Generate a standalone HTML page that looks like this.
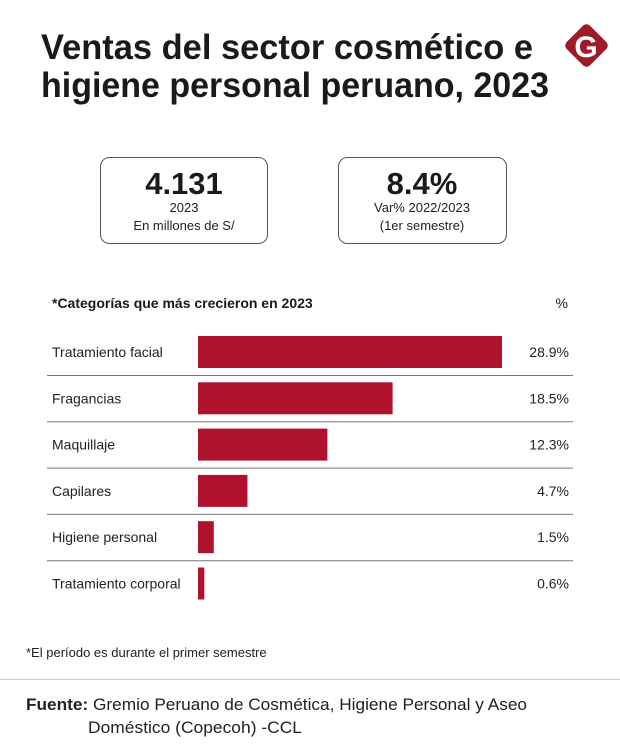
<!DOCTYPE html>
<html><head><meta charset="utf-8"><style>
html,body{margin:0;padding:0;background:#fff;width:620px;height:747px;overflow:hidden}
svg{display:block;font-family:"Liberation Sans",sans-serif}
</style></head><body>
<svg width="620" height="747" viewBox="0 0 620 747">
<text x="41" y="59" font-size="35" font-weight="bold" fill="#1a1a1a" textLength="492" lengthAdjust="spacingAndGlyphs">Ventas del sector cosmético e</text>
<text x="41" y="97" font-size="35" font-weight="bold" fill="#1a1a1a" textLength="508" lengthAdjust="spacingAndGlyphs">higiene personal peruano, 2023</text>
<g>
<rect x="570" y="29" width="33" height="33" rx="5" transform="rotate(45 586.5 45.5)" fill="#9e1b2a"/>
<text x="586" y="57" font-size="30" font-weight="bold" fill="#fff" text-anchor="middle">G</text>
</g>
<g>
<rect x="100.5" y="157.5" width="167" height="86" rx="9" fill="none" stroke="#555" stroke-width="1"/>
<text x="184" y="194" font-size="31" font-weight="bold" text-anchor="middle" fill="#1a1a1a">4.131</text>
<text x="184" y="212" font-size="13" text-anchor="middle" fill="#222">2023</text>
<text x="184" y="230" font-size="13" text-anchor="middle" fill="#222">En millones de S/</text>
</g>
<g>
<rect x="338.5" y="157.5" width="168" height="86" rx="9" fill="none" stroke="#555" stroke-width="1"/>
<text x="422" y="194" font-size="31" font-weight="bold" text-anchor="middle" fill="#1a1a1a">8.4%</text>
<text x="422" y="212" font-size="13" text-anchor="middle" fill="#222">Var% 2022/2023</text>
<text x="422" y="230" font-size="13" text-anchor="middle" fill="#222">(1er semestre)</text>
</g>
<text x="52" y="308" font-size="14" font-weight="bold" fill="#1a1a1a">*Categorías que más crecieron en 2023</text>
<text x="568" y="308" font-size="14" text-anchor="end" fill="#1a1a1a">%</text>
<g id="chart"></g>
<text x="26" y="657" font-size="13" fill="#222">*El período es durante el primer semestre</text>
<line x1="0" y1="679.5" x2="620" y2="679.5" stroke="#ccc"/>
<text x="26" y="710" font-size="17" fill="#222" textLength="501" lengthAdjust="spacingAndGlyphs"><tspan font-weight="bold">Fuente:</tspan> Gremio Peruano de Cosmética, Higiene Personal y Aseo</text>
<text x="88" y="733" font-size="17" fill="#222" textLength="214" lengthAdjust="spacingAndGlyphs">Doméstico (Copecoh) -CCL</text>
</svg>
<script>
const categories = ["Tratamiento facial","Fragancias","Maquillaje","Capilares","Higiene personal","Tratamiento corporal"];
const values = [28.9,18.5,12.3,4.7,1.5,0.6];
const valueLabels = ["28.9%","18.5%","12.3%","4.7%","1.5%","0.6%"];
const NS="http://www.w3.org/2000/svg";
const g=document.getElementById('chart');
const x0=198, pxPerUnit=304/28.9, rowTop=336, rowH=46.3, barH=32;
const xs=v=>v*pxPerUnit;
const ys=i=>rowTop+i*rowH;
function mk(t,a){const e=document.createElementNS(NS,t);for(const k in a)e.setAttribute(k,a[k]);g.appendChild(e);return e;}
categories.forEach((c,i)=>{
  const y=ys(i);
  const r=mk('rect',{x:x0,y:y,width:Math.max(xs(values[i]),1),height:barH,fill:'#b0122e'});
  
  
  const l=mk('text',{x:52,y:y+barH/2+5,'font-size':14,fill:'#222'});l.textContent=c;
  
  
  const v=mk('text',{x:569,y:y+barH/2+5,'font-size':14,fill:'#222','text-anchor':'end'});v.textContent=valueLabels[i];
  
  
  if(i<categories.length-1){
    const ln=mk('line',{x1:47,x2:573,y1:y+barH+7.5,y2:y+barH+7.5,stroke:'#777','stroke-width':1});
    
    
  }
});
</script>
</body></html>
